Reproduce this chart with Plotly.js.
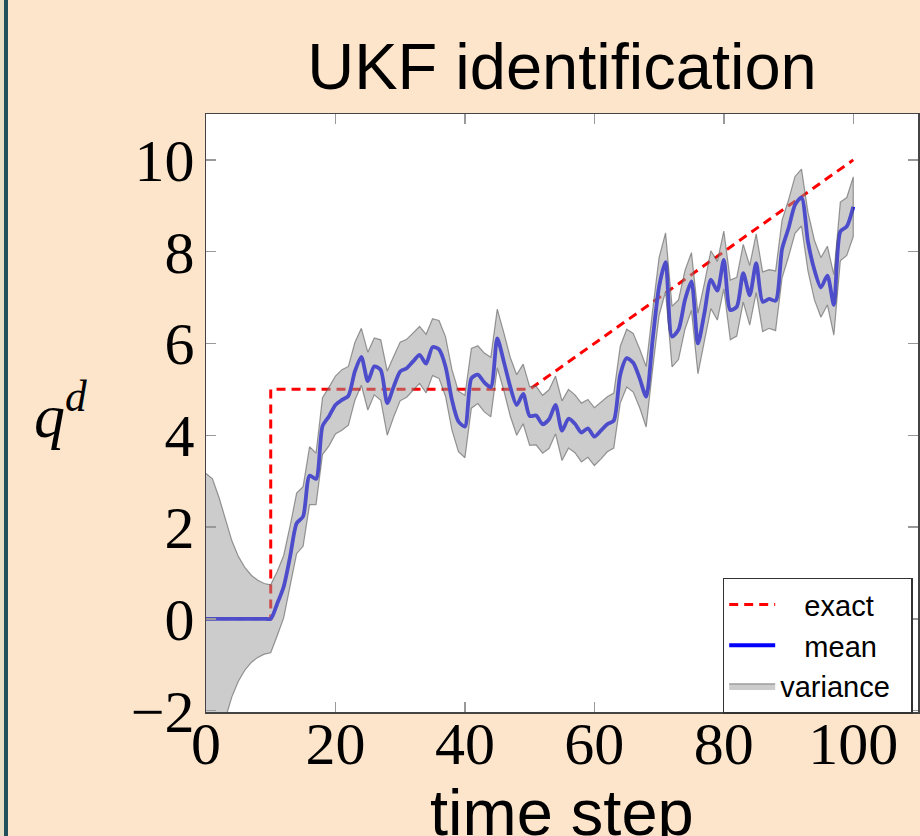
<!DOCTYPE html>
<html><head><meta charset="utf-8">
<script src="https://cdn.plot.ly/plotly-3.0.1.min.js"></script>
<style>
html,body{margin:0;padding:0;width:920px;height:836px;overflow:hidden;
background:linear-gradient(to right,#E6DEC4 0,#E6DEC4 4px,#1F4F5B 4px,#1F4F5B 8px,#FDE5CB 8px);}
#chart{position:absolute;left:8px;top:0;width:912px;height:836px;}
</style></head><body><div id="chart"></div>
<script>
// time steps 0..100
const steps = Array.from({length: 101}, (_, i) => i);

// estimated filter mean at each time step
const meanValues = [
  0,0,0,0,0,0,0,0,0,0,0,
  0.33,0.70,1.36,2.08,2.23,3.12,3.05,4.20,4.41,4.66,
  4.77,4.86,5.39,5.71,5.18,5.50,5.42,4.70,5.06,5.39,
  5.46,5.61,5.75,5.56,5.92,5.87,5.50,4.77,4.30,4.19,
  5.24,5.32,5.15,5.05,6.11,5.61,5.06,4.66,4.90,4.42,
  4.43,4.24,4.35,4.66,4.10,4.36,4.25,4.06,4.15,3.97,
  4.10,4.24,4.32,5.32,5.68,5.58,5.24,4.84,6.08,7.24,
  7.77,6.15,6.30,6.95,7.35,6.00,6.66,7.39,7.15,7.82,
  6.73,6.80,7.53,7.05,7.75,6.91,6.97,6.93,8.06,8.51,
  9.02,9.18,8.22,7.60,7.22,7.48,6.84,8.44,8.55,8.98
];

// estimated half-width of the variance band at each time step
const bandHalfWidth = [
  3.17,3.05,2.65,2.17,1.70,1.36,1.12,0.95,0.84,0.77,0.74,
  0.70,0.68,0.67,0.66,0.65,0.63,0.56,0.62,0.64,0.63,
  0.66,0.64,0.63,0.62,0.63,0.62,0.66,0.70,0.66,0.64,
  0.63,0.62,0.62,0.64,0.62,0.63,0.65,0.66,0.66,0.68,
  0.65,0.63,0.64,0.65,0.64,0.63,0.64,0.66,0.65,0.64,
  0.64,0.63,0.64,0.63,0.65,0.64,0.63,0.64,0.63,0.63,
  0.62,0.60,0.60,0.62,0.63,0.64,0.64,0.66,0.64,0.63,
  0.64,0.66,0.65,0.64,0.63,0.66,0.65,0.63,0.64,0.63,
  0.65,0.64,0.63,0.65,0.64,0.65,0.64,0.65,0.63,0.62,
  0.62,0.62,0.64,0.65,0.65,0.64,0.66,0.64,0.63,0.65
];

// exact parameter trajectory
const exactX = [0, 10, 10, 50, 100];
const exactY = [0, 0, 5, 5, 10];

const xTicks = [0, 20, 40, 60, 80, 100];
const yTicks = [-2, 0, 2, 4, 6, 8, 10];

const upper = meanValues.map((m, i) => m + bandHalfWidth[i]);
const lower = meanValues.map((m, i) => m - bandHalfWidth[i]);

const traces = [
  {
    x: exactX, y: exactY, type: 'scatter', mode: 'lines', name: '\u00A0\u00A0\u00A0exact',
    line: {color: '#FF0000', width: 3, dash: '9px,6px'}, legendrank: 1
  },
  {
    x: steps, y: meanValues, type: 'scatter', mode: 'lines', name: '\u00A0\u00A0\u00A0mean',
    line: {color: '#0000FF', width: 3.8, shape: 'spline', smoothing: 0.7}, legendrank: 2
  },
  {
    x: steps.concat(steps.slice().reverse()),
    y: upper.concat(lower.slice().reverse()),
    type: 'scatter', mode: 'lines', name: 'variance\u00A0\u00A0', fill: 'toself',
    fillcolor: 'rgba(153,153,153,0.5)',
    line: {color: 'rgba(90,90,90,0.6)', width: 1.2}, legendrank: 3
  }
];

const serif = 'Liberation Serif, Times New Roman, serif';
const sans = 'Liberation Sans, Arial, sans-serif';

const axisCommon = {
  ticks: 'inside', ticklen: 10, tickwidth: 1.5, tickcolor: '#999',
  showline: true, linecolor: '#444', linewidth: 1.5, mirror: 'allticks',
  showgrid: false, zeroline: false, automargin: false,
  tickfont: {family: serif, size: 60, color: '#000'}
};

const layout = {
  width: 912, height: 836,
  margin: {l: 198, r: 2, t: 114, b: 124},
  paper_bgcolor: '#FDE5CB', plot_bgcolor: '#FFFFFF',
  title: {
    text: 'UKF identification',
    font: {family: sans, size: 65, color: '#000'},
    x: 0.5, xref: 'paper', xanchor: 'center',
    y: 1 - 66 / 836, yref: 'container', yanchor: 'middle'
  },
  xaxis: Object.assign({}, axisCommon, {
    range: [0, 110], tickvals: xTicks, ticklabelstandoff: -22
  }),
  yaxis: Object.assign({}, axisCommon, {
    range: [-2.03, 11.0], tickvals: yTicks, ticklabelstandoff: -2
  }),
  showlegend: true,
  legend: {
    x: 0.7257, y: 0.2246, xanchor: 'left', yanchor: 'top',
    bgcolor: '#FFFFFF', bordercolor: '#333', borderwidth: 1.5,
    itemwidth: 46,
    font: {family: sans, size: 29, color: '#000'}
  },
  annotations: [
    {
      text: '<i>q</i><sup><i>d</i></sup>',
      xref: 'paper', yref: 'paper', x: -0.205, y: 0.503,
      xanchor: 'center', yanchor: 'middle', showarrow: false,
      font: {family: serif, size: 62, color: '#000'}
    },
    {
      text: 'time step',
      xref: 'paper', yref: 'paper', x: 0.5, y: -0.168,
      xanchor: 'center', yanchor: 'middle', showarrow: false,
      font: {family: sans, size: 65, color: '#000'}
    }
  ]
};

Plotly.newPlot('chart', traces, layout, {displayModeBar: false, staticPlot: true});
</script></body></html>
